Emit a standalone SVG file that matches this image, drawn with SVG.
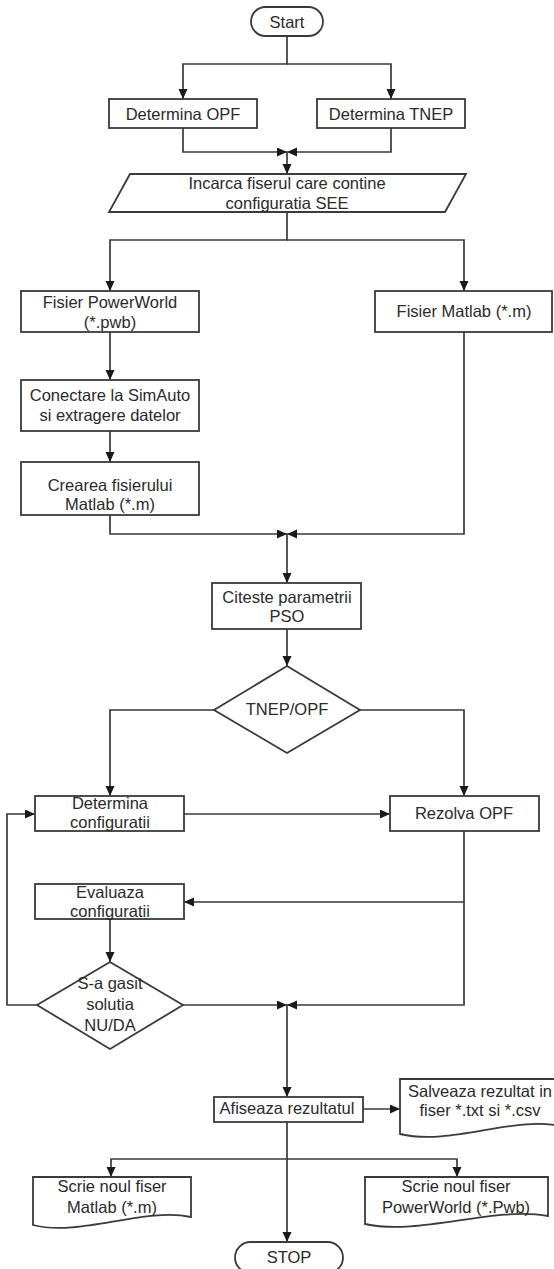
<svg xmlns="http://www.w3.org/2000/svg" width="554" height="1269" viewBox="0 0 554 1269">
  <style>
    .shape { fill: #ffffff; stroke: #3a3a3a; stroke-width: 1.8; }
    .wire { fill: none; stroke: #3a3a3a; stroke-width: 1.7; }
    .lbl { font-family: "Liberation Sans", Arial, sans-serif; font-size: 16.5px; fill: #2a2a2a; text-anchor: middle; dominant-baseline: central; }
  </style>
  <defs>
    <marker id="arrow" markerUnits="userSpaceOnUse" markerWidth="11" markerHeight="10" refX="10" refY="4.5" orient="auto">
      <path d="M0,0 L10,4.5 L0,9 z" fill="#1a1a1a"/>
    </marker>
  </defs>
  <rect width="554" height="1269" fill="#ffffff"/>

  <!-- connectors -->
  <g id="connectors" class="wire">
    <path d="M287,36 V64 H183 V99" marker-end="url(#arrow)"/>
    <path d="M287,64 H391 V99" marker-end="url(#arrow)"/>
    <path d="M183,128 V152 H287" marker-end="url(#arrow)"/>
    <path d="M391,128 V152 H287" marker-end="url(#arrow)"/>
    <path d="M287,152 V174" marker-end="url(#arrow)"/>
    <path d="M287,212 V240 H110 V291" marker-end="url(#arrow)"/>
    <path d="M287,240 H464 V291" marker-end="url(#arrow)"/>
    <path d="M110,332 V380" marker-end="url(#arrow)"/>
    <path d="M110,431 V462" marker-end="url(#arrow)"/>
    <path d="M110,515 V534 H287" marker-end="url(#arrow)"/>
    <path d="M464,332 V534 H287" marker-end="url(#arrow)"/>
    <path d="M287,534 V583" marker-end="url(#arrow)"/>
    <path d="M287,629 V666" marker-end="url(#arrow)"/>
    <path d="M214,710 H110 V796" marker-end="url(#arrow)"/>
    <path d="M360,710 H464 V796" marker-end="url(#arrow)"/>
    <path d="M184,814 H390" marker-end="url(#arrow)"/>
    <path d="M464,831 V902 H184" marker-end="url(#arrow)"/>
    <path d="M464,902 V1005 H287" marker-end="url(#arrow)"/>
    <path d="M110,919 V962" marker-end="url(#arrow)"/>
    <path d="M37,1005 H7 V814 H35" marker-end="url(#arrow)"/>
    <path d="M183,1005 H287" marker-end="url(#arrow)"/>
    <path d="M287,1005 V1097" marker-end="url(#arrow)"/>
    <path d="M363,1109 H400" marker-end="url(#arrow)"/>
    <path d="M287,1122 V1159 H111 V1177" marker-end="url(#arrow)"/>
    <path d="M287,1159 H457 V1177" marker-end="url(#arrow)"/>
    <path d="M287,1159 V1242" marker-end="url(#arrow)"/>
  </g>

  <!-- nodes -->
  <g id="start">
    <rect class="shape" x="251" y="7" width="72" height="29" rx="14.5"/>
    <text class="lbl" x="287" y="22">Start</text>
  </g>
  <g id="determina-opf">
    <rect class="shape" x="109" y="99" width="148" height="29"/>
    <text class="lbl" x="183" y="114">Determina OPF</text>
  </g>
  <g id="determina-tnep">
    <rect class="shape" x="317" y="99" width="148" height="29"/>
    <text class="lbl" x="391" y="114">Determina TNEP</text>
  </g>
  <g id="incarca">
    <polygon class="shape" points="130,174 466,174 445,212 109,212"/>
    <text class="lbl" x="287" y="183">Incarca fiserul care contine</text>
    <text class="lbl" x="287" y="203">configuratia SEE</text>
  </g>
  <g id="fisier-powerworld">
    <rect class="shape" x="21" y="291" width="178" height="41"/>
    <text class="lbl" x="110" y="302">Fisier PowerWorld</text>
    <text class="lbl" x="110" y="322">(*.pwb)</text>
  </g>
  <g id="fisier-matlab">
    <rect class="shape" x="375" y="291" width="177" height="41"/>
    <text class="lbl" x="464" y="311">Fisier Matlab (*.m)</text>
  </g>
  <g id="conectare">
    <rect class="shape" x="21" y="380" width="178" height="51"/>
    <text class="lbl" x="110" y="395">Conectare la SimAuto</text>
    <text class="lbl" x="110" y="415">si extragere datelor</text>
  </g>
  <g id="crearea">
    <rect class="shape" x="21" y="462" width="178" height="53"/>
    <text class="lbl" x="110" y="485">Crearea fisierului</text>
    <text class="lbl" x="110" y="504">Matlab (*.m)</text>
  </g>
  <g id="citeste">
    <rect class="shape" x="212" y="583" width="149" height="46"/>
    <text class="lbl" x="287" y="597">Citeste parametrii</text>
    <text class="lbl" x="287" y="616">PSO</text>
  </g>
  <g id="tnep-opf">
    <polygon class="shape" points="287,666 360,710 287,753 214,710"/>
    <text class="lbl" x="287" y="709">TNEP/OPF</text>
  </g>
  <g id="determina-configuratii">
    <rect class="shape" x="35" y="796" width="149" height="35"/>
    <text class="lbl" x="110" y="803">Determina</text>
    <text class="lbl" x="110" y="822">configuratii</text>
  </g>
  <g id="rezolva-opf">
    <rect class="shape" x="390" y="796" width="149" height="35"/>
    <text class="lbl" x="464" y="813">Rezolva OPF</text>
  </g>
  <g id="evaluaza">
    <rect class="shape" x="35" y="884" width="149" height="35"/>
    <text class="lbl" x="110" y="892">Evaluaza</text>
    <text class="lbl" x="110" y="911">configuratii</text>
  </g>
  <g id="solutie">
    <polygon class="shape" points="110,962 183,1005 110,1049 37,1005"/>
    <text class="lbl" x="110" y="983">S-a gasit</text>
    <text class="lbl" x="110" y="1004">solutia</text>
    <text class="lbl" x="110" y="1025">NU/DA</text>
  </g>
  <g id="afiseaza">
    <rect class="shape" x="214" y="1097" width="149" height="25"/>
    <text class="lbl" x="287" y="1108">Afiseaza rezultatul</text>
  </g>
  <!-- document shapes: wavy lower edge, low on the left, rising to the right -->
  <g id="salveaza">
    <path class="shape" d="M400,1079 H562 V1126 C510,1116 452,1146 400,1134 Z"/>
    <text class="lbl" x="480" y="1091">Salveaza rezultat in</text>
    <text class="lbl" x="480" y="1110">fiser *.txt si *.csv</text>
  </g>
  <g id="scrie-matlab">
    <path class="shape" d="M33,1177 H191 V1217 C144,1207 80,1237 33,1225 Z"/>
    <text class="lbl" x="112" y="1186">Scrie noul fiser</text>
    <text class="lbl" x="112" y="1207">Matlab (*.m)</text>
  </g>
  <g id="scrie-powerworld">
    <path class="shape" d="M365,1177 H548 V1216 C493,1206 420,1236 365,1224 Z"/>
    <text class="lbl" x="456" y="1186">Scrie noul fiser</text>
    <text class="lbl" x="456" y="1207">PowerWorld (*.Pwb)</text>
  </g>
  <g id="stop">
    <rect class="shape" x="235" y="1242" width="108" height="31" rx="15.5"/>
    <text class="lbl" x="289" y="1257">STOP</text>
  </g>
</svg>
